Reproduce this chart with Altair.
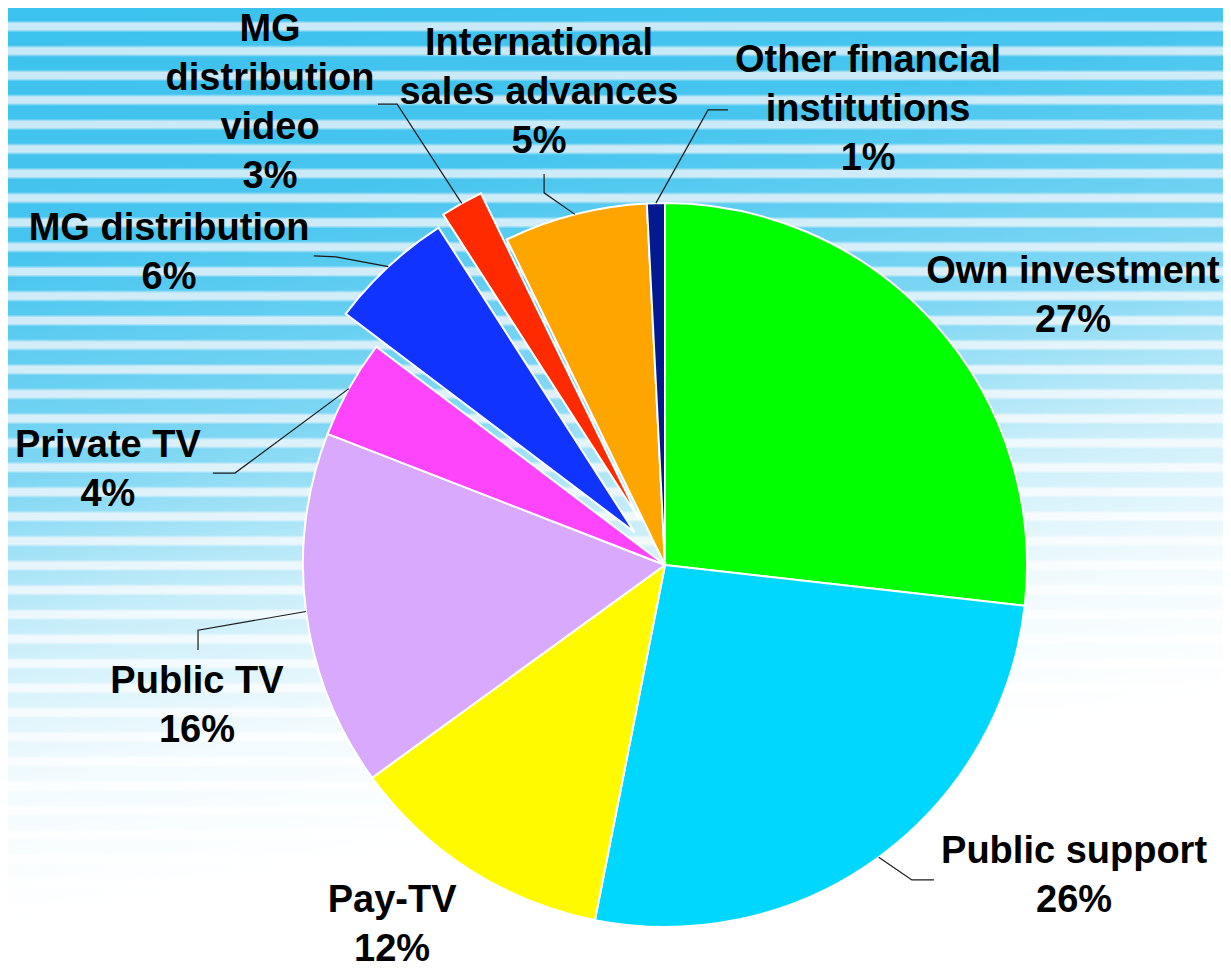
import math
import altair as alt
import pandas as pd

# ---------------- data ----------------
categories = [
    "Own investment", "Public support", "Pay-TV", "Public TV", "Private TV",
    "MG distribution", "MG distribution video", "International sales advances",
    "Other financial institutions",
]
shares = [26.8, 26.3, 11.9, 15.9, 4.4, 5.6, 1.9, 6.4, 0.8]
pct_labels = ["27%", "26%", "12%", "16%", "4%", "6%", "3%", "5%", "1%"]
label_lines = [
    ["Own investment"], ["Public support"], ["Pay-TV"], ["Public TV"], ["Private TV"],
    ["MG distribution"], ["MG", "distribution", "video"],
    ["International", "sales advances"], ["Other financial", "institutions"],
]
colors = ["#00ff00", "#00d7ff", "#fffa00", "#d8a9fc", "#fe45fc",
          "#1133ff", "#ff2a00", "#ffa500", "#02198f"]

# ---------------- layout (style, in pie-radius units) ----------------
explode = {"MG distribution": 0.124, "MG distribution video": 0.146}
label_pos = {
    "Own investment": (1.127, 0.862),
    "Public support": (1.130, -0.740),
    "Pay-TV": (-0.754, -0.876),
    "Public TV": (-1.293, -0.271),
    "Private TV": (-1.539, 0.381),
    "MG distribution": (-1.370, 0.981),
    "MG distribution video": (-1.091, 1.530),
    "International sales advances": (-0.348, 1.492),
    "Other financial institutions": (0.561, 1.445),
}
leader_pts = {
    "Other financial institutions": [(0.174, 1.257), (0.119, 1.257)],
    "International sales advances": [(-0.334, 1.080), (-0.334, 1.028)],
    "MG distribution video": [(-0.793, 1.273), (-0.740, 1.273)],
    "MG distribution": [(-0.970, 0.854), (-0.909, 0.851)],
    "Private TV": [(-1.249, 0.254), (-1.188, 0.254)],
    "Public TV": [(-1.290, -0.235), (-1.290, -0.180)],
    "Public support": [(0.743, -0.870), (0.682, -0.870)],
}

W, H = 1215, 964
R = 362
CX, CY = 657, 557

# ---------------- tables ----------------
total = sum(shares)
rows = []
cum = 0.0
for cat, v in zip(categories, shares):
    t0 = 2 * math.pi * cum / total
    cum += v
    t1 = 2 * math.pi * cum / total
    mid = (t0 + t1) / 2
    e = explode.get(cat, 0.0)
    rows.append({"category": cat, "share": v, "t0": t0, "t1": t1, "mid": mid,
                 "cx": e * math.sin(mid), "cy": e * math.cos(mid)})
slices = pd.DataFrame(rows)

lab_rows = []
for cat, lines, pct in zip(categories, label_lines, pct_labels):
    x, y = label_pos[cat]
    lab_rows.append({"category": cat, "lx": x, "ly": y,
                     "text": "\n".join(lines + [pct])})
labels = pd.DataFrame(lab_rows)

lead_rows = []
for r in rows:
    cat = r["category"]
    if cat not in leader_pts:
        continue
    pts = list(leader_pts[cat]) + [(r["cx"] + math.sin(r["mid"]),
                                    r["cy"] + math.cos(r["mid"]))]
    for i, (x, y) in enumerate(pts):
        lead_rows.append({"category": cat, "step": i, "px": x, "py": y})
leaders = pd.DataFrame(lead_rows)

xs = alt.Scale(domain=[-CX / R, (W - CX) / R], range=[0, W], nice=False, zero=False)
ys = alt.Scale(domain=[-(H - CY) / R, CY / R], range=[H, 0], nice=False, zero=False)

# ---------------- background ----------------
dark, light = "#3cc2ee", "#c8e9f7"
stops = [alt.GradientStop(offset=0, color=dark)]
period, first = 24.5, -6.0
k = 1
while True:
    c = first + period * k
    if c + 6 >= H:
        break
    for off, col in ((c - 6, dark), (c - 3, light), (c + 3, light), (c + 6, dark)):
        if 0 < off / H < 1:
            stops.append(alt.GradientStop(offset=off / H, color=col))
    k += 1
stops.append(alt.GradientStop(offset=1, color=dark))

bg_df = pd.DataFrame({"k": [0]})
stripes = alt.Chart(bg_df).mark_rect(
    color=alt.LinearGradient(gradient="linear", stops=stops, x1=0, x2=0, y1=0, y2=1)
).encode(x=alt.value(0), x2=alt.value(W), y=alt.value(0), y2=alt.value(H))

fade = alt.Chart(bg_df).mark_rect(
    color=alt.LinearGradient(
        gradient="linear", x1=0.08, y1=0, x2=0.32, y2=1,
        stops=[
            alt.GradientStop(offset=0, color="rgba(255,255,255,0)"),
            alt.GradientStop(offset=0.22, color="rgba(255,255,255,0.05)"),
            alt.GradientStop(offset=0.45, color="rgba(255,255,255,0.35)"),
            alt.GradientStop(offset=0.6, color="rgba(255,255,255,0.72)"),
            alt.GradientStop(offset=0.74, color="rgba(255,255,255,0.93)"),
            alt.GradientStop(offset=0.88, color="rgba(255,255,255,1)"),
            alt.GradientStop(offset=1, color="rgba(255,255,255,1)"),
        ],
    )
).encode(x=alt.value(0), x2=alt.value(W), y=alt.value(0), y2=alt.value(H))

# ---------------- pie ----------------
pie = alt.Chart(slices).mark_arc(radius=R, stroke="white", strokeWidth=2).encode(
    theta=alt.Theta("t0:Q", scale=None, stack=None),
    theta2=alt.Theta2("t1:Q"),
    x=alt.X("cx:Q", scale=xs, axis=None),
    y=alt.Y("cy:Q", scale=ys, axis=None),
    color=alt.Color("category:N", scale=alt.Scale(domain=categories, range=colors),
                    legend=None),
)

lead = alt.Chart(leaders).mark_line(color="#1a1a1a", strokeWidth=1.2).encode(
    x=alt.X("px:Q", scale=xs, axis=None),
    y=alt.Y("py:Q", scale=ys, axis=None),
    detail="category:N",
    order="step:O",
)

text = alt.Chart(labels).mark_text(
    font="Liberation Sans", fontWeight="bold", fontSize=38, lineHeight=49,
    lineBreak="\n", align="center", baseline="top", color="black",
).encode(
    x=alt.X("lx:Q", scale=xs, axis=None),
    y=alt.Y("ly:Q", scale=ys, axis=None),
    text="text:N",
)

chart = alt.layer(stripes, fade, pie, lead, text).properties(
    width=W, height=H, padding=0,
    autosize=alt.AutoSizeParams(type="none"),
    background="white",
).configure_view(stroke=None)

chart.save("out.html", embed_options={"renderer": "svg", "actions": False})
